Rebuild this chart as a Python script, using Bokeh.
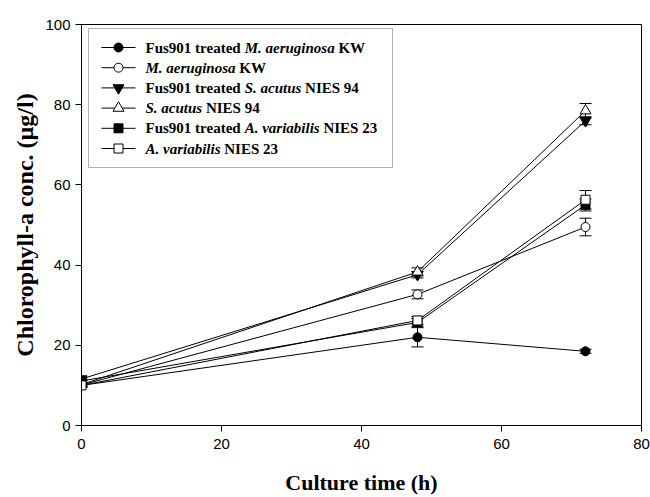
import math
from bokeh.plotting import figure
from bokeh.models import ColumnDataSource, Whisker, Label, TeeHead, Range1d, FixedTicker, BoxAnnotation
from bokeh.embed import file_html
from bokeh.resources import INLINE

# ---------------- data ----------------
time_h = [0, 48, 72]

fus_maer = [10.0, 22.0, 18.5]
fus_maer_err = [0.3, 2.4, 0.5]
maer = [10.1, 32.7, 49.5]
maer_err = [0.3, 1.1, 2.2]
fus_sacu = [11.6, 37.6, 76.0]
fus_sacu_err = [0.3, 0.8, 1.0]
sacu = [10.2, 38.3, 78.5]
sacu_err = [0.3, 1.0, 1.8]
fus_avar = [11.1, 25.7, 55.0]
fus_avar_err = [0.3, 1.0, 1.5]
avar = [10.0, 26.2, 56.3]
avar_err = [0.4, 1.0, 2.3]

legend_prefix = ["Fus901 treated", "", "Fus901 treated", "", "Fus901 treated", ""]
legend_italic = ["M. aeruginosa", "M. aeruginosa", "S. acutus", "S. acutus", "A. variabilis", "A. variabilis"]
legend_suffix = ["KW", "KW", "NIES 94", "NIES 94", "NIES 23", "NIES 23"]

x_ticks = [0, 20, 40, 60, 80]
y_ticks = [0, 20, 40, 60, 80, 100]
x_title = "Culture time (h)"
y_title = "Chlorophyll-a conc. (µg/l)"

# ---------------- styles ----------------
series = [
    (fus_maer, fus_maer_err, "circle", "black", 9),
    (maer, maer_err, "circle", "white", 9),
    (fus_sacu, fus_sacu_err, "inverted_triangle", "black", 11),
    (sacu, sacu_err, "triangle", "white", 11),
    (fus_avar, fus_avar_err, "square", "black", 9),
    (avar, avar_err, "square", "white", 9),
]

W, H = 650, 497
FL, FR, FT, FB = 81, 641, 24, 425  # frame pixel box
XMAX, YMAX = 80, 100

def px2x(px):
    return (px - FL) / (FR - FL) * XMAX

def py2y(py):
    return (FB - py) / (FB - FT) * YMAX

BOLD = {' ': 250, '.': 250, '0': 500, '1': 500, '2': 500, '3': 500, '4': 500, '5': 500, '6': 500,
        '7': 500, '8': 500, '9': 500, 'F': 611, 'K': 778, 'N': 722, 'I': 389, 'E': 667, 'S': 556,
        'W': 1000, 'a': 500, 'd': 556, 'e': 444, 'r': 444, 's': 389, 't': 333, 'u': 556}
BOLDIT = {' ': 250, '.': 250, 'A': 667, 'M': 889, 'S': 556, 'a': 500, 'b': 500, 'c': 444, 'e': 444,
          'g': 500, 'i': 278, 'l': 278, 'n': 556, 'o': 500, 'r': 389, 's': 389, 't': 278, 'u': 556,
          'v': 444}

def tw(s, table, fs):
    return sum(table.get(ch, 500) for ch in s) / 1000.0 * fs

p = figure(width=W, height=H, x_range=Range1d(0, XMAX), y_range=Range1d(0, YMAX),
           output_backend="svg", toolbar_location=None,
           min_border_left=FL, min_border_right=W - FR, min_border_top=FT, min_border_bottom=H - FB)
p.xgrid.visible = False
p.ygrid.visible = False
p.outline_line_color = "black"
p.outline_line_alpha = 1.0
p.background_fill_color = "white"
p.border_fill_color = "white"

for ax, ticks in ((p.xaxis[0], x_ticks), (p.yaxis[0], y_ticks)):
    ax.ticker = FixedTicker(ticks=ticks)
    ax.major_tick_in = 0
    ax.major_tick_out = 6
    ax.minor_tick_line_color = None
    ax.axis_line_color = "black"
    ax.major_tick_line_color = "black"
    ax.major_label_text_font = "Liberation Sans"
    ax.major_label_text_font_size = "15px"
    ax.major_label_text_color = "black"
    ax.axis_label_text_font = "Liberation Serif"
    ax.axis_label_text_font_style = "bold"
    ax.axis_label_text_color = "black"
p.xaxis[0].major_label_standoff = 7
p.yaxis[0].major_label_standoff = 5

p.xaxis[0].axis_label = x_title
p.xaxis[0].axis_label_text_font_size = "22px"
p.xaxis[0].axis_label_standoff = 18

p.yaxis[0].axis_label = y_title
p.yaxis[0].axis_label_text_font_size = "24px"
p.yaxis[0].axis_label_standoff = 4

# data series
for vals, errs, marker, fill, size in series:
    src = ColumnDataSource(dict(x=time_h, y=vals,
                                lo=[v - e for v, e in zip(vals, errs)],
                                hi=[v + e for v, e in zip(vals, errs)]))
    p.line("x", "y", source=src, line_color="black", line_width=1)
    p.add_layout(Whisker(source=src, base="x", lower="lo", upper="hi", line_color="black",
                         line_width=1,
                         upper_head=TeeHead(size=12, line_color="black", line_width=1),
                         lower_head=TeeHead(size=12, line_color="black", line_width=1)))
    p.scatter("x", "y", source=src, marker=marker, size=size, fill_color=fill,
              line_color="black", line_width=1)

# legend box
p.add_layout(BoxAnnotation(left=px2x(88), right=px2x(392), top=py2y(28), bottom=py2y(167),
                           fill_color="white", fill_alpha=1.0, line_color="black", line_width=1,
                           level="annotation"))

LFS = 15
row0, drow = 47.0, 20.2
for i, (vals, errs, marker, fill, size) in enumerate(series):
    ry = row0 + drow * i
    p.segment(x0=[px2x(101)], y0=[py2y(ry)], x1=[px2x(135)], y1=[py2y(ry)],
              line_color="black", line_width=1, level="overlay")
    p.scatter(x=[px2x(118)], y=[py2y(ry)], marker=marker, size=size, fill_color=fill,
              line_color="black", line_width=1, level="overlay")
    xcur = 145.0
    if legend_prefix[i]:
        p.add_layout(Label(x=px2x(xcur), y=py2y(ry), text=legend_prefix[i], text_font="Liberation Serif",
                           text_font_style="bold", text_font_size=f"{LFS}px", text_baseline="middle",
                           text_align="left", text_color="black"))
        xcur += tw(legend_prefix[i] + " ", BOLD, LFS)
    p.add_layout(Label(x=px2x(xcur), y=py2y(ry), text=legend_italic[i], text_font="Liberation Serif",
                       text_font_style="bold italic", text_font_size=f"{LFS}px", text_baseline="middle",
                       text_align="left", text_color="black"))
    xcur += tw(legend_italic[i] + " ", BOLDIT, LFS)
    p.add_layout(Label(x=px2x(xcur), y=py2y(ry), text=legend_suffix[i], text_font="Liberation Serif",
                       text_font_style="bold", text_font_size=f"{LFS}px", text_baseline="middle",
                       text_align="left", text_color="black"))

open("out.html", "w").write(file_html(p, INLINE))
